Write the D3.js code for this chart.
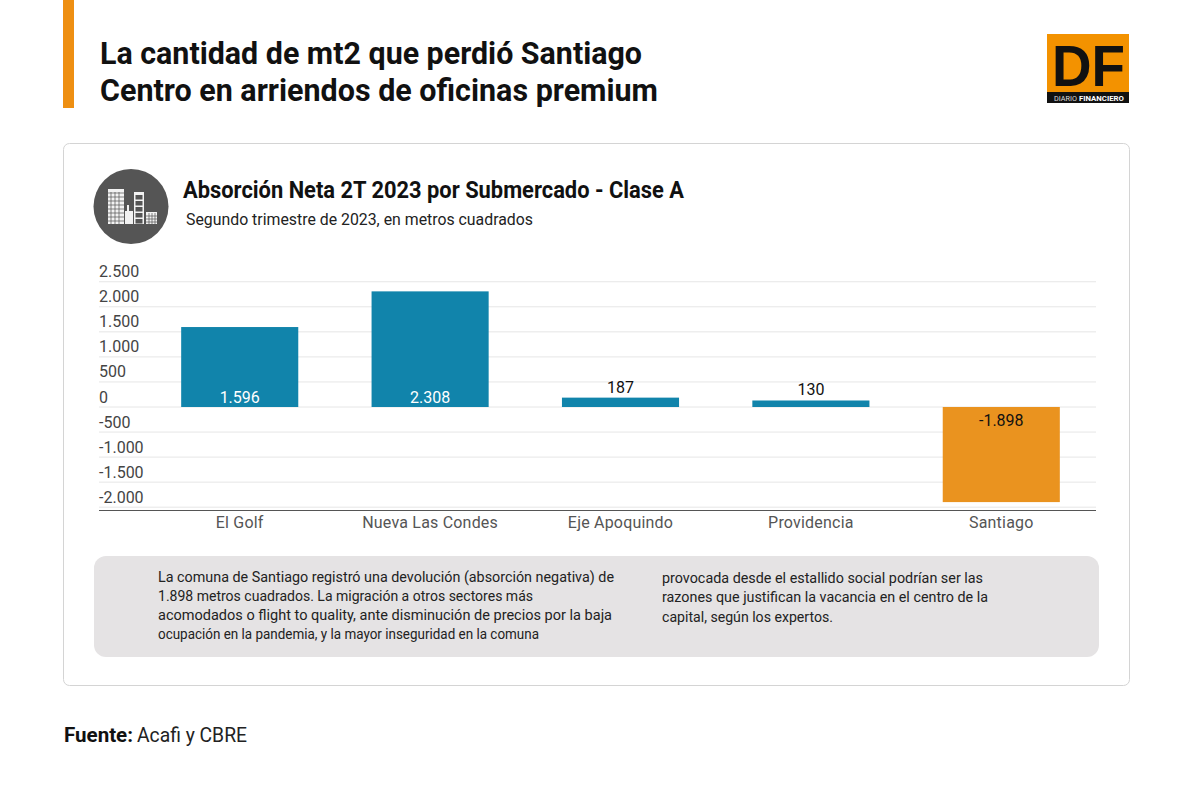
<!DOCTYPE html>
<html><head><meta charset="utf-8">
<script src="https://cdn.jsdelivr.net/npm/d3@7"></script>
<style>html,body{margin:0;padding:0;background:#fff}svg{display:block}text{font-family:Roboto,sans-serif}</style>
</head><body><svg id="c" width="1200" height="789"></svg>
<script>
const categories=["El Golf","Nueva Las Condes","Eje Apoquindo","Providencia","Santiago"];
const values=[1596,2308,187,130,-1898];
const valueLabels=["1.596","2.308","187","130","-1.898"];
const ticks=[2500,2000,1500,1000,500,0,-500,-1000,-1500,-2000];
const tickLabels=["2.500","2.000","1.500","1.000","500","0","-500","-1.000","-1.500","-2.000"];
const titleLines=["La cantidad de mt2 que perdió Santiago","Centro en arriendos de oficinas premium"];
const noteLeft=["La comuna de Santiago registró una devolución (absorción negativa) de","1.898 metros cuadrados. La migración a otros sectores más","acomodados o flight to quality, ante disminución de precios por la baja","ocupación en la pandemia, y la mayor inseguridad en la comuna"];
const noteRight=["provocada desde el estallido social podrían ser las","razones que justifican la vacancia en el centro de la","capital, según los expertos."];
const svg=d3.select("#c");
function T(x,y,s,size,w,fill,len,anchor){
  const t=svg.append("text").attr("x",x).attr("y",y).attr("font-size",size).attr("font-weight",w).attr("fill",fill).attr("text-anchor",anchor||"start").text(s);
  if(len){t.attr("textLength",len).attr("lengthAdjust","spacingAndGlyphs");}
  return t;
}
svg.append("rect").attr("x",63).attr("y",0).attr("width",11).attr("height",108).attr("fill","#ee8f12");
T(100,63.5,titleLines[0],31,700,"#111",542);
T(100,100.5,titleLines[1],31,700,"#111",558);
// logo
svg.append("rect").attr("x",1047).attr("y",34).attr("width",82).attr("height",69).attr("fill","#f39200");
svg.append("rect").attr("x",1047).attr("y",92).attr("width",82).attr("height",11).attr("fill","#111");
T(1052,86,"DF",58,700,"#111",73).style("font-family","'Liberation Sans'");
T(1054,100.5,"DIARIO",6.5,400,"#ddd",23);
T(1079,100.5,"FINANCIERO",6.5,700,"#fff",45);
// card
svg.append("rect").attr("x",63.5).attr("y",143.5).attr("width",1066).attr("height",542).attr("rx",6).attr("fill","#fff").attr("stroke","#d4d4d4");
// icon
svg.append("circle").attr("cx",131).attr("cy",206.5).attr("r",37.5).attr("fill","#555");
const ic=svg.append("g").attr("fill","#f2f2f2");
[[108,189,16,35],[134,192,10,32],[146,212,11,12],[125,211,8,13],[127,205,2,6]].forEach(d=>ic.append("rect").attr("x",d[0]).attr("y",d[1]).attr("width",d[2]).attr("height",d[3]));
const ig=svg.append("g").attr("stroke","#555").attr("stroke-width",.7);
[193,197,201,205,209,213,217,221].forEach(y=>ig.append("line").attr("x1",108).attr("x2",124).attr("y1",y).attr("y2",y));
[111,115,119].forEach(x=>ig.append("line").attr("x1",x).attr("x2",x).attr("y1",192).attr("y2",224));
svg.append("g").attr("fill","#555").selectAll("rect").data([195,201,207,213,219]).join("rect").attr("x",135.5).attr("width",7).attr("y",d=>d).attr("height",4.5);
[149,152,155].forEach(x=>ig.append("line").attr("x1",x).attr("x2",x).attr("y1",213).attr("y2",224));
[216,219,222].forEach(y=>ig.append("line").attr("x1",146).attr("x2",157).attr("y1",y).attr("y2",y));
// chart header
T(183,197.5,"Absorción Neta 2T 2023 por Submercado - Clase A",24,700,"#111",501);
T(186,225,"Segundo trimestre de 2023, en metros cuadrados",16.5,400,"#222",347);
// scales
const y=d3.scaleLinear().domain([-2000,2000]).range([507.2,306.8]);
const x=d3.scaleBand().domain(categories).range([145,1096]).paddingInner(0.385).paddingOuter(0.19);
const grid=svg.append("g");
grid.selectAll("line").data(ticks).join("line").attr("x1",99).attr("x2",1096).attr("y1",d=>y(d)).attr("y2",d=>y(d)).attr("stroke","#e6e6e6");
svg.append("g").selectAll("text").data(ticks).join("text").attr("x",99).attr("y",d=>y(d)-4.5).attr("font-size",16).attr("fill","#444").text((d,i)=>tickLabels[i]);
svg.append("g").selectAll("rect").data(values).join("rect").attr("x",(d,i)=>x(categories[i])).attr("width",x.bandwidth())
 .attr("y",d=>y(Math.max(d,0))).attr("height",d=>Math.abs(y(d)-y(0))).attr("fill",d=>d<0?"#ea931f":"#1184ab");
svg.append("line").attr("x1",99).attr("x2",1096).attr("y1",510.5).attr("y2",510.5).attr("stroke","#555").attr("stroke-width",1.2);
svg.append("g").selectAll("text").data(categories).join("text").attr("x",d=>x(d)+x.bandwidth()/2).attr("y",528).attr("text-anchor","middle").attr("font-size",16).attr("fill","#555").attr("letter-spacing",.2).text(d=>d);
svg.append("g").selectAll("text").data(values).join("text").attr("x",(d,i)=>x(categories[i])+x.bandwidth()/2)
 .attr("y",(d,i)=>d<0?y(0)+19:(d>1000?y(0)-4:y(d)-5)).attr("text-anchor","middle").attr("font-size",16)
 .attr("fill",d=>d>1000?"#fff":"#111").text((d,i)=>valueLabels[i]);
// note
svg.append("rect").attr("x",94).attr("y",556).attr("width",1005).attr("height",101).attr("rx",12).attr("fill","#e5e3e4");
const lensL=[456,375,454,381], lensR=[321,326,171];
noteLeft.forEach((s,i)=>T(158,582+i*19,s,14.5,400,"#222",lensL[i]));
noteRight.forEach((s,i)=>T(662,583+i*19.3,s,14.5,400,"#222",lensR[i]));
// source
T(64,742,"Fuente:",20,700,"#111",69);
T(137,742,"Acafi y CBRE",20,400,"#222",110);
</script></body></html>
